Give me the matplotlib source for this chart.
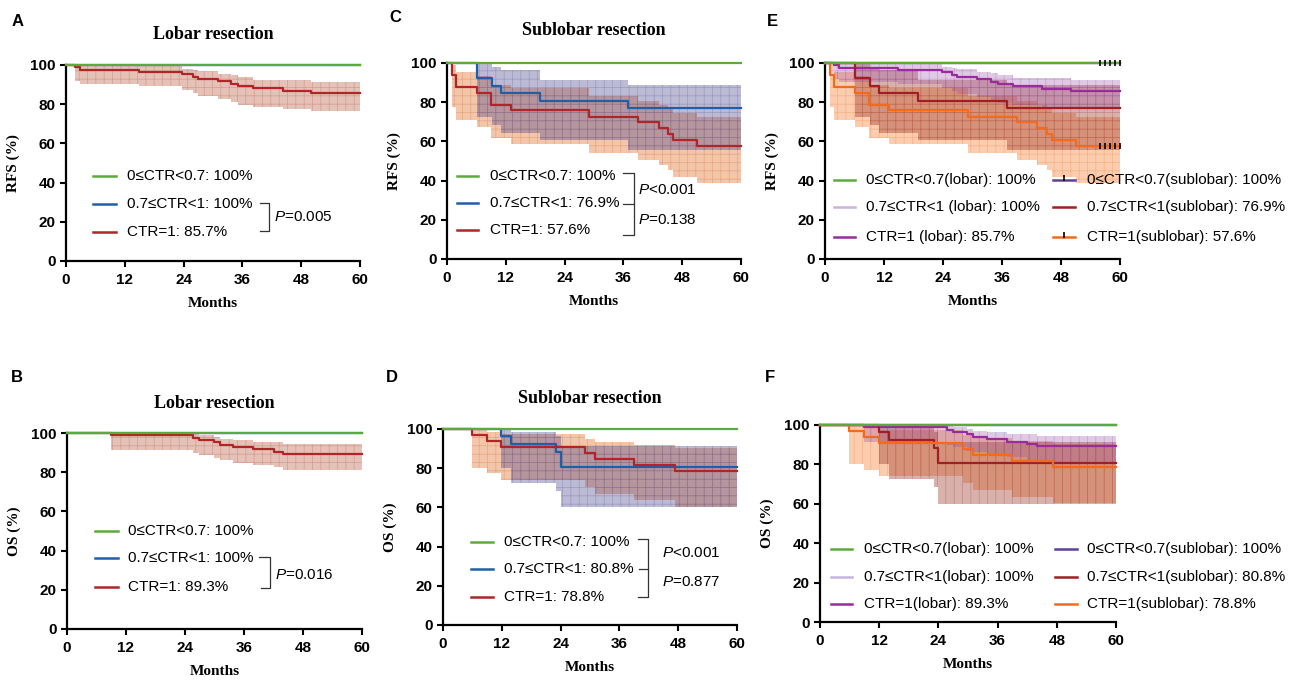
import matplotlib
matplotlib.use("Agg")
import matplotlib.pyplot as plt
import numpy as np

plt.rcParams['mathtext.fontset'] = 'custom'
plt.rcParams['mathtext.it'] = 'Liberation Sans:italic'
plt.rcParams['mathtext.rm'] = 'Liberation Sans'
plt.rcParams['hatch.linewidth'] = 0.5

SANS = ['Liberation Sans', 'DejaVu Sans']
SERIF = ['Liberation Serif', 'DejaVu Serif']

W, H = 1308, 680
x_ticks = [0, 12, 24, 36, 48, 60]
y_ticks = [0, 20, 40, 60, 80, 100]
censor_t = [56, 57, 58, 59, 60]

# flat 100% curves
flat_t = [0]
flat_s = [100]

# A: RFS, lobar, CTR=1
A_t = [0, 1.9, 2.9, 14.9, 23.7, 25.9, 26.9, 31.0, 33.7, 35.1, 38.2, 44.2, 50.1]
A_s = [100, 98.8, 97.6, 96.4, 95.2, 94.0, 92.8, 91.6, 90.5, 89.3, 88.1, 86.9, 85.7]
A_lo = [100, 92.0, 90.4, 89.2, 87.2, 85.8, 84.4, 82.4, 81.0, 79.8, 78.5, 77.6, 76.3]
A_hi = [100, 99.7, 99.6, 99.4, 98.0, 97.6, 97.1, 95.4, 94.8, 94.1, 92.4, 92.4, 91.5]

# B: OS, lobar, CTR=1
B_t = [0, 8.9, 25.7, 26.9, 29.8, 31.1, 33.8, 37.9, 42.0, 44.0]
B_s = [100, 98.8, 97.6, 96.4, 95.2, 94.0, 92.8, 91.6, 90.5, 89.3]
B_lo = [100, 91.5, 89.9, 88.6, 87.0, 86.1, 84.7, 83.6, 82.4, 81.0]
B_hi = [100, 99.7, 99.3, 98.8, 97.8, 97.1, 96.3, 95.6, 95.4, 94.2]

# C: RFS, sublobar, 0.7<=CTR<1
Cb_t = [0, 6.1, 9.2, 11.0, 19.0, 37.0]
Cb_s = [100, 92.3, 88.5, 84.6, 80.8, 76.9]
Cb_lo = [100, 72.5, 68.5, 64.5, 60.5, 55.5]
Cb_hi = [100, 100, 98.0, 96.3, 91.5, 88.6]

# C: RFS, sublobar, CTR=1
Cr_t = [0, 1.0, 1.9, 6.1, 9.0, 13.1, 29.0, 39.0, 43.2, 45.1, 46.1, 51.0]
Cr_s = [100, 93.9, 87.9, 84.8, 78.8, 75.8, 72.7, 69.7, 66.7, 63.6, 60.6, 57.6]
Cr_lo = [100, 77.6, 70.8, 67.4, 61.5, 58.5, 54.0, 50.5, 48.0, 45.5, 42.0, 39.0]
Cr_hi = [100, 98.8, 95.4, 93.5, 89.0, 87.0, 83.0, 80.5, 78.5, 76.5, 74.5, 72.2]

# D: OS, sublobar, 0.7<=CTR<1
Db_t = [0, 11.9, 13.9, 23.1, 24.0]
Db_s = [100, 96.2, 92.3, 88.5, 80.8]
Db_lo = [100, 80.0, 72.5, 68.5, 60.0]
Db_hi = [100, 99.5, 98.5, 96.5, 91.3]

# D: OS, sublobar, CTR=1
Dr_t = [0, 5.9, 9.0, 11.9, 29.0, 31.0, 39.0, 47.3]
Dr_s = [100, 97.0, 93.9, 90.9, 87.9, 84.8, 81.8, 78.8]
Dr_lo = [100, 80.0, 77.3, 74.0, 70.5, 66.8, 63.7, 60.3]
Dr_hi = [100, 99.3, 98.5, 97.6, 95.1, 93.4, 91.8, 90.2]

GREEN = '#5aab3c'
BLUE = '#1f5fa8'
RED = '#b02528'
PURPLE = '#982c9b'
INDIGO = '#5e3fa0'
LAVENDER = '#c8b4dc'
DARKRED = '#a01f24'
ORANGE = '#f26b1d'

fig = plt.figure(figsize=(W / 100, H / 100), dpi=100)


def make_axes(l, r, t, b, ylabel):
    ax = fig.add_axes([l / W, 1 - b / H, (r - l) / W, (b - t) / H])
    ax.set_xlim(0, 60)
    ax.set_ylim(0, 100)
    ax.set_xticks(x_ticks)
    ax.set_yticks(y_ticks)
    for s in ['top', 'right']:
        ax.spines[s].set_visible(False)
    for s in ['left', 'bottom']:
        ax.spines[s].set_linewidth(1.6)
    ax.tick_params(width=1.5, length=4.5, labelsize=11)
    ax.tick_params(axis='x', pad=4)
    ax.tick_params(axis='y', pad=3)
    for lab in ax.get_xticklabels() + ax.get_yticklabels():
        lab.set_fontweight('bold')
        lab.set_family(SANS)
    ax.set_xlabel('Months', family=SERIF, fontweight='bold', fontsize=11, labelpad=7)
    ax.set_ylabel(ylabel, family=SERIF, fontweight='bold', fontsize=11, labelpad=7)
    return ax


def km_line(ax, t, s, color, z=3):
    tt = list(t) + [60]
    ss = list(s) + [s[-1]]
    ax.step(tt, ss, where='post', color=color, lw=1.6, zorder=z, clip_on=False)


def km_band(ax, t, lo, hi, face, hcol, hatch, z=1):
    tt = np.r_[t, 60]
    ll = np.r_[lo, lo[-1]]
    hh = np.r_[hi, hi[-1]]
    ax.fill_between(tt, ll, hh, step='post', facecolor=face, edgecolor=hcol,
                    linewidth=0, hatch=hatch, zorder=z)


def legend_rows(ax, items, xh0, xh1, xt, ys):
    for (label, color, tick), y in zip(items, ys):
        ax.plot([xh0, xh1], [y, y], transform=ax.transAxes, color=color,
                lw=1.8, clip_on=False)
        if tick:
            ax.plot([(xh0 + xh1) / 2], [y + 0.012], transform=ax.transAxes,
                    marker='|', color='black', ms=4, mew=1.2, clip_on=False)
        ax.text(xt, y, label, transform=ax.transAxes, va='center', ha='left',
                fontsize=11, family=SANS)


def bracket(ax, xs, ys):
    ax.plot(xs, ys, transform=ax.transAxes, color='#333333', lw=0.9,
            clip_on=False)


def ptext(ax, x, y, s):
    ax.text(x, y, s, transform=ax.transAxes, va='center', ha='left',
            fontsize=11, family=SANS)


def letter(x, y, s):
    fig.text(x / W, 1 - y / H, s, fontsize=12, fontweight='bold', family=SANS,
             ha='center', va='center')


# band colours (face, hatch)
band_ab = ((0.75, 0.40, 0.30, 0.40), (0.70, 0.35, 0.28, 0.35))
band_red = ((0.90, 0.50, 0.25, 0.45), (0.80, 0.42, 0.22, 0.35))
band_blue = ((0.28, 0.26, 0.55, 0.36), (0.30, 0.30, 0.55, 0.30))
band_pur = ((0.60, 0.30, 0.65, 0.30), (0.55, 0.25, 0.60, 0.30))
band_dr = ((0.60, 0.20, 0.15, 0.38), (0.55, 0.18, 0.14, 0.30))
band_or = ((0.96, 0.50, 0.20, 0.40), (0.90, 0.45, 0.18, 0.30))

lab3_A = ['0≤CTR<0.7: 100%', '0.7≤CTR<1: 100%', 'CTR=1: 85.7%']
lab3_B = ['0≤CTR<0.7: 100%', '0.7≤CTR<1: 100%', 'CTR=1: 89.3%']
lab3_C = ['0≤CTR<0.7: 100%', '0.7≤CTR<1: 76.9%', 'CTR=1: 57.6%']
lab3_D = ['0≤CTR<0.7: 100%', '0.7≤CTR<1: 80.8%', 'CTR=1: 78.8%']
lab6_E = ['0≤CTR<0.7(lobar): 100%', '0.7≤CTR<1 (lobar): 100%', 'CTR=1 (lobar): 85.7%',
          '0≤CTR<0.7(sublobar): 100%', '0.7≤CTR<1(sublobar): 76.9%', 'CTR=1(sublobar): 57.6%']
lab6_F = ['0≤CTR<0.7(lobar): 100%', '0.7≤CTR<1(lobar): 100%', 'CTR=1(lobar): 89.3%',
          '0≤CTR<0.7(sublobar): 100%', '0.7≤CTR<1(sublobar): 80.8%', 'CTR=1(sublobar): 78.8%']

# ---------------- A ----------------
ax = make_axes(66, 360, 65, 261, 'RFS (%)')
ax.set_title('Lobar resection', family=SERIF, fontweight='bold', fontsize=13, pad=19)
km_band(ax, A_t, A_lo, A_hi, *band_ab, '++')
km_line(ax, flat_t, flat_s, BLUE)
km_line(ax, A_t, A_s, RED)
km_line(ax, flat_t, flat_s, GREEN, z=4)
legend_rows(ax, list(zip(lab3_A, [GREEN, BLUE, RED], [0, 0, 0])),
            0.092, 0.170, 0.207, [0.434, 0.291, 0.148])
bracket(ax, [0.660, 0.690, 0.690, 0.660], [0.296, 0.296, 0.153, 0.153])
ptext(ax, 0.708, 0.224, r'$P$=0.005')
letter(18, 21, 'A')

# ---------------- B ----------------
ax = make_axes(67, 362, 433, 629, 'OS (%)')
ax.set_title('Lobar resection', family=SERIF, fontweight='bold', fontsize=13, pad=18)
km_band(ax, B_t, B_lo, B_hi, *band_ab, '++')
km_line(ax, flat_t, flat_s, BLUE)
km_line(ax, B_t, B_s, RED)
km_line(ax, flat_t, flat_s, GREEN, z=4)
legend_rows(ax, list(zip(lab3_B, [GREEN, BLUE, RED], [0, 0, 0])),
            0.095, 0.173, 0.207, [0.500, 0.362, 0.214])
bracket(ax, [0.650, 0.688, 0.688, 0.656], [0.367, 0.367, 0.209, 0.209])
ptext(ax, 0.705, 0.276, r'$P$=0.016')
letter(17, 377, 'B')

# ---------------- C ----------------
ax = make_axes(447, 741, 63, 259, 'RFS (%)')
ax.set_title('Sublobar resection', family=SERIF, fontweight='bold', fontsize=13, pad=20)
km_band(ax, Cr_t, Cr_lo, Cr_hi, *band_red, '++')
km_band(ax, Cb_t, Cb_lo, Cb_hi, *band_blue, '++', z=2)
km_line(ax, Cb_t, Cb_s, BLUE)
km_line(ax, Cr_t, Cr_s, RED)
km_line(ax, flat_t, flat_s, GREEN, z=4)
legend_rows(ax, list(zip(lab3_C, [GREEN, BLUE, RED], [0, 0, 0])),
            0.034, 0.105, 0.146, [0.423, 0.286, 0.148])
bracket(ax, [0.597, 0.636, 0.636, 0.599], [0.439, 0.439, 0.281, 0.281])
bracket(ax, [0.636, 0.636, 0.597], [0.281, 0.122, 0.122])
ptext(ax, 0.648, 0.352, r'$P$<0.001')
ptext(ax, 0.648, 0.199, r'$P$=0.138')
letter(395, 18, 'C')

# ---------------- D ----------------
ax = make_axes(443, 737, 429, 625, 'OS (%)')
ax.set_title('Sublobar resection', family=SERIF, fontweight='bold', fontsize=13, pad=19)
km_band(ax, Dr_t, Dr_lo, Dr_hi, *band_red, '++')
km_band(ax, Db_t, Db_lo, Db_hi, *band_blue, '++', z=2)
km_line(ax, Db_t, Db_s, BLUE)
km_line(ax, Dr_t, Dr_s, RED)
km_line(ax, flat_t, flat_s, GREEN, z=4)
legend_rows(ax, list(zip(lab3_D, [GREEN, BLUE, RED], [0, 0, 0])),
            0.095, 0.170, 0.207, [0.423, 0.286, 0.143])
bracket(ax, [0.663, 0.697, 0.697, 0.663], [0.439, 0.439, 0.143, 0.143])
bracket(ax, [0.665, 0.697], [0.286, 0.286])
ptext(ax, 0.745, 0.367, r'$P$<0.001')
ptext(ax, 0.745, 0.219, r'$P$=0.877')
letter(392, 377, 'D')

# ---------------- E ----------------
ax = make_axes(825, 1120, 63, 259, 'RFS (%)')
km_band(ax, Cr_t, Cr_lo, Cr_hi, *band_or, '++')
km_band(ax, Cb_t, Cb_lo, Cb_hi, *band_dr, '++', z=1.5)
km_band(ax, A_t, A_lo, A_hi, *band_pur, '++', z=2)
km_line(ax, flat_t, flat_s, INDIGO)
km_line(ax, flat_t, flat_s, LAVENDER)
km_line(ax, flat_t, flat_s, GREEN, z=4)
km_line(ax, A_t, A_s, PURPLE)
km_line(ax, Cb_t, Cb_s, DARKRED)
km_line(ax, Cr_t, Cr_s, ORANGE)
ax.plot(censor_t, [flat_s[-1]] * len(censor_t), ls='none', marker='|', color='black',
        ms=5, mew=1.2, zorder=5, clip_on=False)
ax.plot(censor_t, [Cr_s[-1]] * len(censor_t), ls='none', marker='|', color='black',
        ms=5, mew=1.2, zorder=5, clip_on=False)
rows = [0.403, 0.265, 0.112]
legend_rows(ax, list(zip(lab6_E[:3], [GREEN, LAVENDER, PURPLE], [0, 0, 0])),
            0.032, 0.103, 0.138, rows)
legend_rows(ax, list(zip(lab6_E[3:], [INDIGO, DARKRED, ORANGE], [1, 0, 1])),
            0.773, 0.847, 0.888, rows)
letter(772, 21, 'E')

# ---------------- F ----------------
ax = make_axes(820, 1116, 425, 622, 'OS (%)')
km_band(ax, Dr_t, Dr_lo, Dr_hi, *band_or, '||')
km_band(ax, Db_t, Db_lo, Db_hi, *band_dr, '||', z=1.5)
km_band(ax, B_t, B_lo, B_hi, *band_pur, '||', z=2)
km_line(ax, flat_t, flat_s, INDIGO)
km_line(ax, flat_t, flat_s, LAVENDER)
km_line(ax, flat_t, flat_s, GREEN, z=4)
km_line(ax, B_t, B_s, PURPLE)
km_line(ax, Db_t, Db_s, DARKRED)
km_line(ax, Dr_t, Dr_s, ORANGE)
rows = [0.371, 0.228, 0.091]
legend_rows(ax, list(zip(lab6_F[:3], [GREEN, LAVENDER, PURPLE], [0, 0, 0])),
            0.036, 0.109, 0.148, rows)
legend_rows(ax, list(zip(lab6_F[3:], [INDIGO, DARKRED, ORANGE], [0, 0, 0])),
            0.794, 0.868, 0.902, rows)
letter(770, 378, 'F')

fig.savefig('out.png', dpi=100)
